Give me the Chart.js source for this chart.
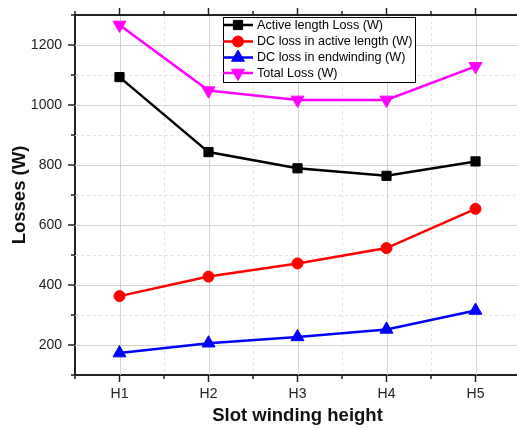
<!DOCTYPE html>
<html>
<head>
<meta charset="utf-8">
<script src="https://cdn.jsdelivr.net/npm/chart.js@4.4.1/dist/chart.umd.min.js"></script>
<style>
  html, body { margin: 0; padding: 0; background: #fff; overflow: hidden; }
  #wrap { width: 540px; height: 428px; }
</style>
</head>
<body>
<div id="wrap"><canvas id="lossChart" width="540" height="428"></canvas></div>
<script>
// data
const categories = ['H1', 'H2', 'H3', 'H4', 'H5'];
const activeLengthLoss = [1093, 843, 789, 764, 812];
const dcActiveLength = [363, 428, 472, 523, 654];
const dcEndwinding = [173, 206, 227, 252, 315];
const totalLoss = [1267, 1048, 1017, 1017, 1129];

const yMin = 100, yMax = 1300, yStep = 100;
const xMin = 0.5, xMax = 5.5, xStep = 0.5;

const axisColor = '#222';
const font = 'Arial, "Liberation Sans", sans-serif';

function toPoints(values) {
    return values.map((v, i) => ({ x: i + 1, y: v }));
}

const series = [
    { label: 'Active length Loss (W)', data: activeLengthLoss, color: '#000000', style: 'rect', radius: 6.5, rotation: 0 },
    { label: 'DC loss in active length (W)', data: dcActiveLength, color: '#ff0000', style: 'circle', radius: 5.5, rotation: 0 },
    { label: 'DC loss in endwinding (W)', data: dcEndwinding, color: '#0000ff', style: 'triangle', radius: 7.5, rotation: 0 },
    { label: 'Total Loss (W)', data: totalLoss, color: '#ff00ff', style: 'triangle', radius: 7.5, rotation: 180 },
];

// grid lines, ticks on all four sides, top/right frame
const framePlugin = {
    id: 'frame',
    beforeDatasetsDraw(chart) {
        const { ctx, chartArea: a, scales: { x, y } } = chart;
        ctx.save();
        ctx.lineWidth = 1;
        for (let v = yMin + yStep; v < yMax; v += yStep) {
            const py = Math.round(y.getPixelForValue(v)) + 0.5;
            const major = v % 200 === 0;
            ctx.strokeStyle = major ? '#d2d2d2' : '#e2e2e2';
            ctx.setLineDash(major ? [] : [3, 3]);
            ctx.beginPath(); ctx.moveTo(a.left, py); ctx.lineTo(a.right, py); ctx.stroke();
        }
        for (let v = xMin + xStep; v < xMax; v += xStep) {
            const px = Math.round(x.getPixelForValue(v)) + 0.5;
            const major = Number.isInteger(v);
            ctx.strokeStyle = major ? '#d2d2d2' : '#e2e2e2';
            ctx.setLineDash(major ? [] : [3, 3]);
            ctx.beginPath(); ctx.moveTo(px, a.top); ctx.lineTo(px, a.bottom); ctx.stroke();
        }
        ctx.restore();
    },
    afterDraw(chart) {
        const { ctx, chartArea: a, scales: { x, y } } = chart;
        ctx.save();
        ctx.strokeStyle = axisColor;
        ctx.lineWidth = 2;
        ctx.beginPath();
        ctx.moveTo(a.left, a.top); ctx.lineTo(a.right, a.top);
        ctx.moveTo(a.right, a.top); ctx.lineTo(a.right, a.bottom);
        ctx.stroke();

        ctx.lineWidth = 1.5;
        ctx.beginPath();
        for (let v = yMin; v <= yMax; v += yStep) {
            const py = y.getPixelForValue(v);
            const len = v % 200 === 0 ? 7 : 4;
            ctx.moveTo(a.left - len, py); ctx.lineTo(a.left, py);
            ctx.moveTo(a.right, py); ctx.lineTo(a.right + len, py);
        }
        for (let v = xMin; v <= xMax; v += xStep) {
            const px = x.getPixelForValue(v);
            const len = Number.isInteger(v) ? 7 : 4;
            ctx.moveTo(px, a.bottom); ctx.lineTo(px, a.bottom + len);
            ctx.moveTo(px, a.top); ctx.lineTo(px, a.top - len);
        }
        ctx.stroke();

        // legend box inside the plot
        const box = { left: 223, top: 17, width: 192, height: 65 };
        const rowY = [25, 41.5, 57.5, 73];
        ctx.fillStyle = '#fff';
        ctx.fillRect(box.left, box.top, box.width, box.height);
        ctx.lineWidth = 1;
        ctx.strokeStyle = '#000';
        ctx.strokeRect(box.left + 0.5, box.top + 0.5, box.width, box.height);
        ctx.font = '12.6px ' + font;
        ctx.textBaseline = 'middle';
        ctx.textAlign = 'left';
        series.forEach((s, i) => {
            const ly = rowY[i];
            ctx.strokeStyle = s.color;
            ctx.lineWidth = 2.5;
            ctx.beginPath(); ctx.moveTo(box.left, ly); ctx.lineTo(box.left + 30, ly); ctx.stroke();
            ctx.fillStyle = s.color;
            ctx.lineWidth = 1;
            Chart.helpers.drawPoint(ctx, {
                pointStyle: s.style, radius: s.radius, rotation: s.rotation, borderWidth: 1
            }, box.left + 15, ly);
            ctx.fillStyle = '#000';
            ctx.fillText(s.label, box.left + 34, ly + 0.5);
        });
        ctx.restore();
    }
};

const ctx = document.getElementById('lossChart').getContext('2d');
new Chart(ctx, {
    type: 'line',
    data: {
        datasets: series.map(s => ({
            label: s.label,
            data: toPoints(s.data),
            borderColor: s.color,
            backgroundColor: s.color,
            borderWidth: 2.5,
            pointStyle: s.style,
            pointRadius: s.radius,
            pointRotation: s.rotation,
            pointBorderWidth: 1,
            pointBorderColor: s.color,
            pointBackgroundColor: s.color,
            tension: 0,
        })),
    },
    options: {
        responsive: false,
        animation: false,
        events: [],
        layout: { padding: { left: 0, top: 15, right: 20, bottom: 0 }, autoPadding: false },
        plugins: { legend: { display: false }, tooltip: { enabled: false } },
        scales: {
            x: {
                type: 'linear',
                min: xMin, max: xMax,
                afterBuildTicks: scale => {
                    const t = [];
                    for (let v = xMin; v <= xMax; v += xStep) t.push({ value: v });
                    scale.ticks = t;
                },
                afterFit: scale => {
                    scale.height = 53;
                    scale.paddingLeft = 0; scale.paddingRight = 0;
                },
                grid: { drawOnChartArea: false, drawTicks: false },
                border: { display: true, color: axisColor, width: 2 },
                ticks: {
                    autoSkip: false, maxRotation: 0, padding: 11,
                    color: axisColor, font: { family: font, size: 14 },
                    callback: v => Number.isInteger(v) ? categories[v - 1] : '',
                },
                title: {
                    display: true, text: 'Slot winding height', color: '#111',
                    font: { family: font, size: 18.5, weight: 'bold' },
                    padding: { top: 0, bottom: 0.5 },
                },
            },
            y: {
                type: 'linear',
                min: yMin, max: yMax,
                afterFit: scale => {
                    scale.width = 75;
                    scale.paddingTop = 0; scale.paddingBottom = 0;
                },
                grid: { drawOnChartArea: false, drawTicks: false },
                border: { display: true, color: axisColor, width: 2 },
                ticks: {
                    stepSize: yStep, padding: 13,
                    color: axisColor, font: { family: font, size: 14 },
                    callback: v => v % 200 === 0 ? v : '',
                },
                title: {
                    display: true, text: 'Losses (W)', color: '#111',
                    font: { family: font, size: 18.5, weight: 'bold' },
                    padding: { top: 9, bottom: 0 },
                },
            },
        },
    },
    plugins: [framePlugin],
});
</script>
</body>
</html>
